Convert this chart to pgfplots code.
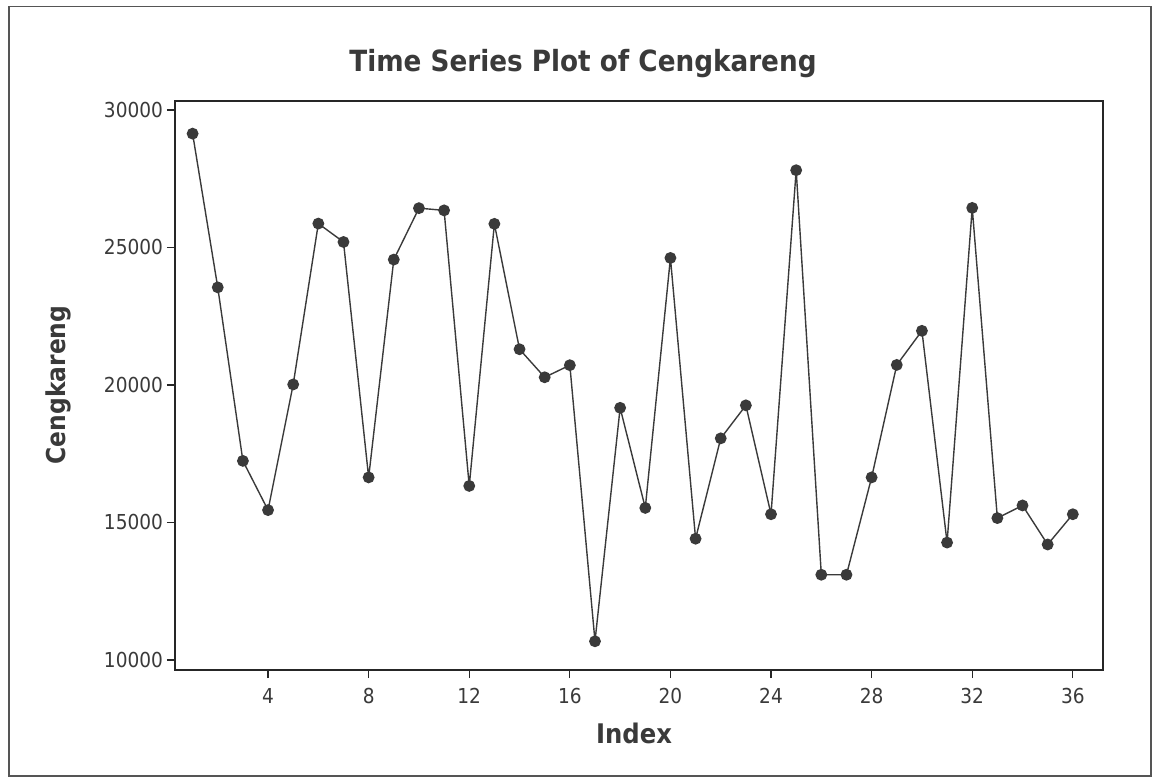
\documentclass[border=0pt]{standalone}
\usepackage{fontspec}
\setmainfont{DejaVu Sans Condensed}
\usepackage{pgfplots}
\pgfplotsset{compat=1.18}

\definecolor{ink}{HTML}{3A3A3A}
\definecolor{framec}{HTML}{555555}

\begin{document}
\begin{tikzpicture}
% page: 1152x777 px at 0.5pt per px, axis box from (175,101) to (1103,670)
\useasboundingbox (-87.5pt,-53.5pt) rectangle (488.5pt,335pt);
\draw[framec, line width=0.9pt] (-83pt,-53pt) rectangle (488pt,331.75pt);
\begin{axis}[
    at={(0pt,0pt)}, anchor=south west,
    scale only axis,
    width=464pt, height=284.5pt,
    xmin=0.3, xmax=37.2,
    ymin=9636, ymax=30327,
    xtick={4,8,...,36},
    ytick={10000,15000,...,30000},
    xtick pos=bottom, ytick pos=left,
    tick align=outside,
    major tick length=4pt,
    axis line style={black!85, line width=0.8pt},
    tick style={black!85, line width=0.6pt},
    scaled y ticks=false,
    /pgf/number format/fixed,
    /pgf/number format/1000 sep={},
    /pgf/number format/assume math mode=true,
    ticklabel style={font=\fontsize{10.3}{12}\selectfont, text=ink},
    xticklabel style={yshift=-1.5pt},
    yticklabel style={xshift=1.5pt},
]
\addplot[ink, line width=0.7pt, mark=*, mark size=2.6pt,
         mark options={fill=ink, draw=ink}]
coordinates {
(1,29140) (2,23550) (3,17240) (4,15450) (5,20020) (6,25870)
(7,25200) (8,16640) (9,24560) (10,26430) (11,26350) (12,16330)
(13,25860) (14,21300) (15,20280) (16,20720) (17,10680) (18,19170)
(19,15530) (20,24620) (21,14410) (22,18060) (23,19260) (24,15300)
(25,27810) (26,13100) (27,13100) (28,16640) (29,20730) (30,21970)
(31,14270) (32,26440) (33,15160) (34,15620) (35,14200) (36,15300)
};
\end{axis}
\node[font=\bfseries\fontsize{14.6}{17}\selectfont, text=ink] at (204pt,303pt) {Time Series Plot of Cengkareng};
\node[font=\bfseries\fontsize{13}{15}\selectfont, text=ink, rotate=90] at (-58.5pt,142.5pt) {Cengkareng};
\node[font=\bfseries\fontsize{13.5}{15}\selectfont, text=ink] at (229.5pt,-31.5pt) {Index};
\end{tikzpicture}
\end{document}
